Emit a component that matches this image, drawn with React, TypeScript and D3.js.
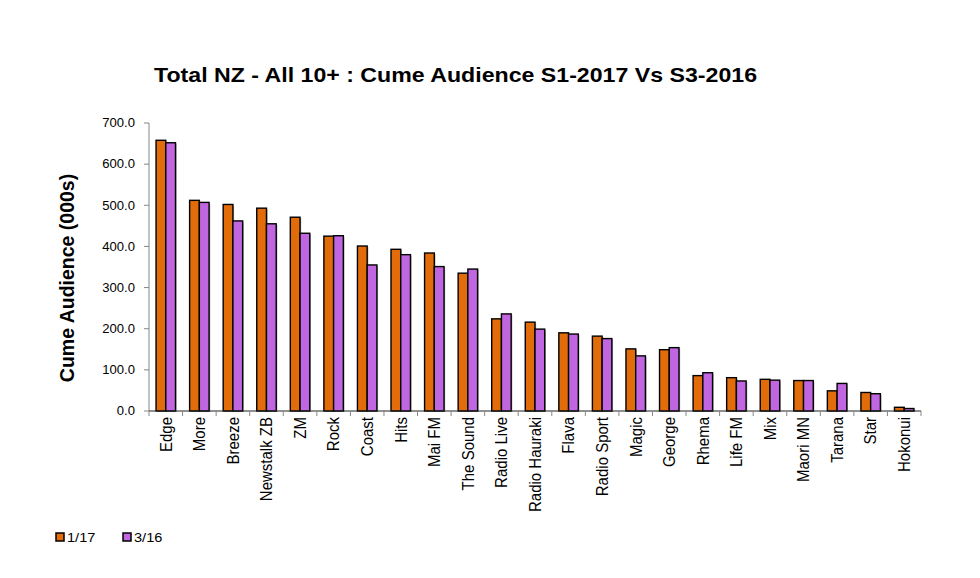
import * as d3 from "d3";
import React from "react";

const stations = [
  "Edge", "More", "Breeze", "Newstalk ZB", "ZM", "Rock", "Coast", "Hits",
  "Mai FM", "The Sound", "Radio Live", "Radio Hauraki", "Flava", "Radio Sport",
  "Magic", "George", "Rhema", "Life FM", "Mix", "Maori MN", "Tarana", "Star", "Hokonui",
];
const s1_2017 = [658, 512, 502, 493, 471, 425, 401, 393, 384, 335, 224, 216, 190, 182, 151, 149, 86, 81, 77, 74, 49, 45, 9];
const s3_2016 = [652, 507, 462, 455, 432, 426, 355, 380, 351, 345, 236, 199, 187, 176, 134, 154, 93, 73, 75, 74, 67, 42, 6];
const seriesNames = ["1/17", "3/16"];
const seriesColors = ["#E36C0A", "#C066E0"];
const yTicks = [0, 100, 200, 300, 400, 500, 600, 700];

const W = 980;
const H = 578;
const font = "'Liberation Sans', Arial, sans-serif";

export default function App() {
  const x = d3.scaleBand<string>().domain(stations).range([149, 921]).padding(0);
  const y = d3.scaleLinear().domain([0, 700]).range([411, 123]);
  const bw = x.bandwidth();
  const groupW = bw * 0.58;
  const x1 = d3
    .scaleBand<string>()
    .domain(seriesNames)
    .range([(bw - groupW) / 2, (bw + groupW) / 2]);
  const series = [s1_2017, s3_2016];
  const fmt = d3.format(".1f");
  const edges = stations.map((s) => x(s)!).concat([x.range()[1]]);

  return (
    <svg width={W} height={H} style={{ display: "block", margin: "-8px", background: "#fff" }} fontFamily={font}>
      <rect width={W} height={H} fill="#fff" />
      {/* title */}
      <text
        x={154}
        y={82}
        fontSize={21}
        fontWeight="bold"
        textLength={603}
        lengthAdjust="spacingAndGlyphs"
      >
        Total NZ - All 10+ : Cume Audience S1-2017 Vs S3-2016
      </text>

      {/* bars */}
      {stations.map((st, i) => (
        <g key={st} transform={`translate(${x(st)},0)`}>
          {series.map((vals, k) => {
            const bx = x1(seriesNames[k])!;
            const by = y(vals[i]);
            return (
              <g key={k}>
                <rect
                  x={bx + 1.2}
                  y={by + 1}
                  width={x1.bandwidth()}
                  height={y(0) - by}
                  fill="#b5b5b5"
                />
                <rect
                  x={bx}
                  y={by}
                  width={x1.bandwidth()}
                  height={y(0) - by}
                  fill={seriesColors[k]}
                  stroke="#000"
                  strokeWidth={1.4}
                />
              </g>
            );
          })}
        </g>
      ))}

      {/* y axis */}
      <line x1={149} x2={149} y1={y(700)} y2={y(0)} stroke="#868686" strokeWidth={1} />
      {yTicks.map((t) => (
        <g key={t}>
          <line x1={144} x2={149} y1={y(t)} y2={y(t)} stroke="#868686" />
          <text
            transform={`translate(135,${y(t)}) scale(1.09,1)`}
            dy="0.36em"
            textAnchor="end"
            fontSize={12}
            fill="#000"
          >
            {fmt(t)}
          </text>
        </g>
      ))}

      {/* x axis */}
      <line x1={149} x2={921} y1={y(0)} y2={y(0)} stroke="#222" strokeWidth={1.2} />
      {edges.map((e, i) => (
        <line key={i} x1={e} x2={e} y1={y(0)} y2={y(0) + 5} stroke="#868686" />
      ))}
      {stations.map((st) => (
        <text
          key={st}
          transform={`translate(${x(st)! + bw / 2},417) scale(1.08,1) rotate(-90)`}
          dy="0.36em"
          textAnchor="end"
          fontSize={15}
          fill="#000"
        >
          {st}
        </text>
      ))}

      {/* y axis title */}
      <text
        transform={`translate(67,278) scale(1.05,1) rotate(-90)`}
        dy="0.36em"
        textAnchor="middle"
        fontSize={19.5}
        fontWeight="bold"
      >
        Cume Audience (000s)
      </text>

      {/* legend */}
      {seriesNames.map((n, k) => (
        <g key={n} transform={`translate(${56 + k * 67},533)`}>
          <rect width={8} height={8} fill={seriesColors[k]} stroke="#000" strokeWidth={1.5} />
          <text
            transform="translate(11,9) scale(1.08,1)"
            fontSize={13.5}
          >
            {n}
          </text>
        </g>
      ))}
    </svg>
  );
}
